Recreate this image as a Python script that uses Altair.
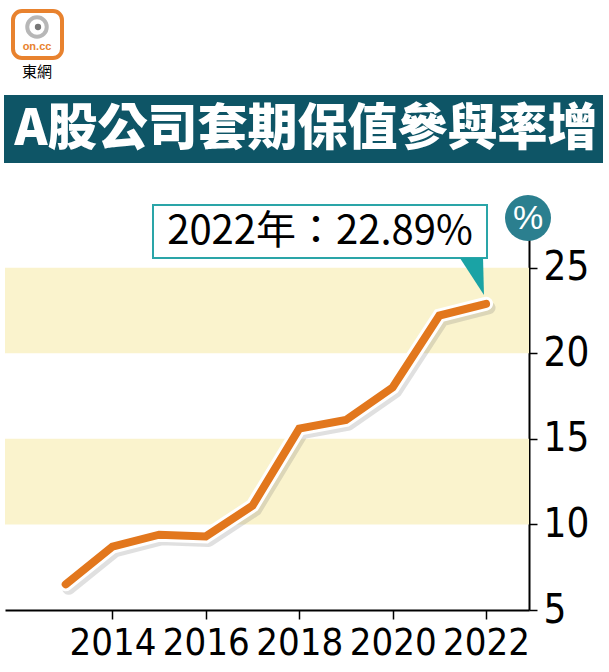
import altair as alt
import pandas as pd

years = [2013, 2014, 2015, 2016, 2017, 2018, 2019, 2020, 2021, 2022]
rates = [6.5, 8.7, 9.4, 9.3, 11.1, 15.6, 16.1, 18.0, 22.2, 22.89]
band_low = [10, 20]
band_high = [15, 25]
x_ticks = [2014, 2016, 2018, 2020, 2022]
y_ticks = [5, 10, 15, 20, 25]
title_text = "A股公司套期保值參與率增"
note_text = "2022年：22.89%"

df = pd.DataFrame({"year": years, "rate": rates})
bands = pd.DataFrame({"lo": band_low, "hi": band_high})
one = pd.DataFrame({"k": [0]})

LABEL_FONT = "DejaVu Sans Condensed, Liberation Sans, sans-serif"
CJK = "Noto Sans CJK TC"

xs = alt.Scale(domain=[2011.7, 2022.92], nice=False, zero=False)
ys = alt.Scale(domain=[5, 27.2], nice=False, zero=False)

x_enc = alt.X("year:Q", scale=xs, axis=alt.Axis(
    values=x_ticks, format="d", title=None, grid=False,
    domainColor="black", domainWidth=2, tickColor="black", tickWidth=1.5,
    tickSize=9, labelFont=LABEL_FONT, labelFontSize=38, labelColor="black",
    labelPadding=5, labelFlush=False))
y_enc = alt.Y("rate:Q", scale=ys, axis=alt.Axis(
    orient="right", values=y_ticks, title=None, grid=False,
    domainColor="black", domainWidth=2, tickColor="black", tickWidth=1.5,
    tickSize=8, labelFont=LABEL_FONT, labelFontSize=40, labelColor="black",
    labelPadding=6, labelBaseline="middle"))

band_layer = alt.Chart(bands).mark_rect(color="#faf3cd").encode(
    x=alt.value(0), x2=alt.value(524),
    y=alt.Y("lo:Q", scale=ys), y2="hi:Q")

shadow = alt.Chart(df).mark_line(
    color="#666666", opacity=0.2, strokeWidth=13, strokeCap="round",
    strokeJoin="round", xOffset=3, yOffset=4).encode(x=x_enc, y=y_enc)
outline = alt.Chart(df).mark_line(
    color="white", strokeWidth=14, strokeCap="round",
    strokeJoin="miter").encode(x=x_enc, y=y_enc)
line = alt.Chart(df).mark_line(
    color="#e2771d", strokeWidth=8, strokeCap="round",
    strokeJoin="miter").encode(x=x_enc, y=y_enc)

# Title banner
banner = alt.Chart(one).mark_rect(color="#0e5566").encode(
    x=alt.value(-1), x2=alt.value(598), y=alt.value(-135), y2=alt.value(-67))
banner_text = alt.Chart(one).mark_text(
    text=title_text, font=CJK, fontSize=50, fontWeight=900, color="white",
    align="center", baseline="middle").encode(x=alt.value(301), y=alt.value(-100))

# Logo
logo_box = alt.Chart(one).mark_rect(
    fill="white", stroke="#e8822e", strokeWidth=4, cornerRadius=9).encode(
    x=alt.value(8), x2=alt.value(57), y=alt.value(-219), y2=alt.value(-172))
logo_ring = alt.Chart(one).mark_point(
    shape="circle", filled=False, stroke="#9a9a9a", strokeWidth=4, size=380).encode(
    x=alt.value(32), y=alt.value(-203))
logo_dot = alt.Chart(one).mark_point(
    shape="circle", filled=True, color="#777777", opacity=1, size=40).encode(
    x=alt.value(33), y=alt.value(-203))
logo_on = alt.Chart(one).mark_text(
    text="on.cc", font="Liberation Sans", fontSize=11, fontWeight="bold",
    color="#e8822e", align="center", baseline="middle").encode(
    x=alt.value(32), y=alt.value(-183))
logo_cn = alt.Chart(one).mark_text(
    text="東網", font=CJK, fontSize=15, color="black",
    align="center", baseline="middle").encode(x=alt.value(32), y=alt.value(-158))

# Annotation
note_box = alt.Chart(one).mark_rect(
    fill="white", stroke="#2aa5a8", strokeWidth=2).encode(
    x=alt.value(148), x2=alt.value(482), y=alt.value(-25), y2=alt.value(28))
note_tri = alt.Chart(one).mark_point(
    shape="M-0.68,-1L0.57,-1L0.62,1Z", filled=True, color="#1aa3a5",
    opacity=1, size=1369).encode(x=alt.value(467.5), y=alt.value(46.5))
note_txt = alt.Chart(one).mark_text(
    text=note_text, font=CJK, fontSize=40, color="black",
    align="center", baseline="middle").encode(x=alt.value(315), y=alt.value(2))

# % badge
pct_circle = alt.Chart(one).mark_point(
    shape="circle", filled=True, color="#2b7f8f", opacity=1, size=2116).encode(
    x=alt.value(523), y=alt.value(-12))
pct_txt = alt.Chart(one).mark_text(
    text="%", font="Liberation Sans", fontSize=34, color="white",
    align="center", baseline="middle").encode(x=alt.value(523), y=alt.value(-11))

chart = alt.layer(
    band_layer, shadow, outline, line, banner, banner_text,
    logo_box, logo_ring, logo_dot, logo_on, logo_cn,
    note_box, note_tri, note_txt, pct_circle, pct_txt
).properties(
    width=524, height=380,
    autosize=alt.AutoSizeParams(type="none"),
    padding={"left": 5, "top": 230, "right": 80, "bottom": 62},
    background="white"
).configure_view(stroke=None)

chart.save("out.html", embed_options={"renderer": "svg", "actions": False})
